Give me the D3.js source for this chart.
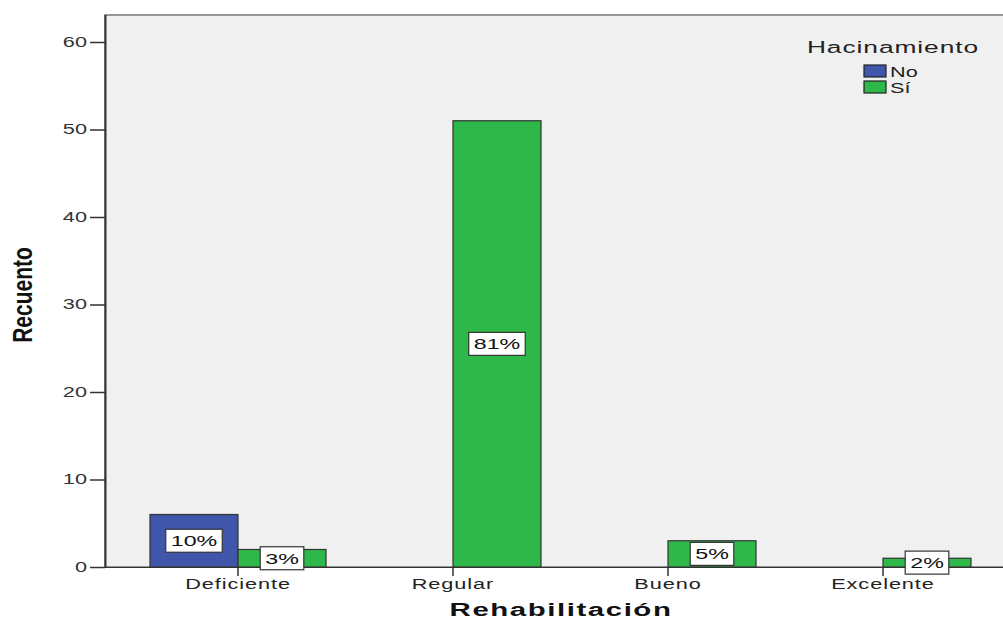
<!DOCTYPE html>
<html>
<head>
<meta charset="utf-8">
<script src="https://cdn.jsdelivr.net/npm/d3@7"></script>
<style>
body { margin: 0; background: #fff; }
text { font-family: "Liberation Sans", Arial, sans-serif; }
</style>
</head>
<body>
<div id="chart"></div>
<script>
// data
var categories = ["Deficiente", "Regular", "Bueno", "Excelente"];
var groups = ["No", "Sí"];
var countNo = [6, 0, 0, 0];
var countSi = [2, 51, 3, 1];
var pctNo = ["10%", null, null, null];
var pctSi = ["3%", "81%", "5%", "2%"];
var yTicks = [0, 10, 20, 30, 40, 50, 60];
var colors = ["#3f56aa", "#2fb84a"];

var svgWidth = 1003;
var svgHeight = 622;

// the original picture is stretched sideways, so is the text
var stretch = 1.55;

var plot = { left: 105, top: 15, right: 1016, bottom: 567 };

var svg = d3.select("#chart")
            .append("svg")
            .attr("width", svgWidth)
            .attr("height", svgHeight);

// plot background
svg.append("rect")
   .attr("x", plot.left)
   .attr("y", plot.top)
   .attr("width", plot.right - plot.left)
   .attr("height", plot.bottom - plot.top)
   .attr("fill", "#f0f0f0")
   .attr("stroke", "#777")
   .attr("stroke-width", 1.5);

var x = d3.scaleBand()
          .domain(categories)
          .range([130.5, 990.5])
          .padding(0);

var xSub = d3.scaleBand()
             .domain(groups)
             .range([0, 176]);

var y = d3.scaleLinear()
          .domain([0, 60])
          .range([plot.bottom, 42]);

var rows = [];
categories.forEach(function(c, i) {
    rows.push({ cat: c, g: "No", v: countNo[i], pct: pctNo[i] });
    rows.push({ cat: c, g: "Sí", v: countSi[i], pct: pctSi[i] });
});

function barX(d) {
    return x(d.cat) + x.bandwidth() / 2 - 88 + xSub(d.g);
}

// bars
svg.append("g")
   .selectAll("rect")
   .data(rows.filter(d => d.v > 0))
   .enter()
   .append("rect")
   .attr("x", d => barX(d))
   .attr("y", d => y(d.v))
   .attr("width", xSub.bandwidth())
   .attr("height", d => y(0) - y(d.v))
   .attr("fill", d => colors[groups.indexOf(d.g)])
   .attr("stroke", "#333")
   .attr("stroke-width", 1.2);

// x axis
var xAxis = svg.append("g")
               .attr("transform", `translate(0, ${plot.bottom})`)
               .call(d3.axisBottom(x).tickSize(9).tickSizeOuter(0).tickPadding(2));
xAxis.select(".domain").attr("d", `M${plot.left},0.5H${plot.right}`).attr("stroke", "#333").attr("stroke-width", 1.2);
xAxis.selectAll(".tick line").attr("stroke", "#333").attr("stroke-width", 1.5);
xAxis.selectAll(".tick text")
     .attr("y", 22)
     .attr("dy", 0)
     .attr("transform", `scale(${stretch},1)`)
     .attr("font-size", "14px")
     .attr("letter-spacing", "0.6px")
     .attr("fill", "#222")
     .attr("font-family", "Liberation Sans, Arial, sans-serif");

// y axis
var yAxis = svg.append("g")
               .attr("transform", `translate(${plot.left}, 0)`)
               .call(d3.axisLeft(y).tickValues(yTicks).tickSize(15).tickSizeOuter(0));
yAxis.select(".domain").attr("d", `M0.5,${plot.top}V${plot.bottom}`).attr("stroke", "#333").attr("stroke-width", 2);
yAxis.selectAll(".tick line").attr("stroke", "#333").attr("stroke-width", 1.5);
yAxis.selectAll(".tick text")
     .attr("x", -18 / stretch)
     .attr("transform", `scale(${stretch},1)`)
     .attr("font-size", "14px")
     .attr("fill", "#333")
     .attr("font-family", "Liberation Sans, Arial, sans-serif");

// percentage labels
var labels = svg.append("g")
                .selectAll("g")
                .data(rows.filter(d => d.pct))
                .enter()
                .append("g")
                .attr("transform", d => `translate(${barX(d) + xSub.bandwidth() / 2}, ${(y(d.v) + y(0)) / 2})`);

labels.append("text")
      .attr("text-anchor", "middle")
      .attr("dy", "0.36em")
      .attr("transform", `scale(${stretch},1)`)
      .attr("font-size", "15px")
      .attr("fill", "#111")
      .text(d => d.pct);

labels.each(function() {
    var g = d3.select(this);
    var w = g.select("text").node().getBBox().width * stretch;
    g.insert("rect", "text")
     .attr("x", -w / 2 - 5)
     .attr("y", -11.5)
     .attr("width", w + 10)
     .attr("height", 23)
     .attr("fill", "#fff")
     .attr("stroke", "#333")
     .attr("stroke-width", 1.2);
});

// legend
var legend = svg.append("g");
legend.append("text")
      .attr("transform", `translate(893, 53) scale(${stretch},1)`)
      .attr("text-anchor", "middle")
      .attr("font-size", "17px")
      .attr("letter-spacing", "0.6px")
      .attr("fill", "#222")
      .text("Hacinamiento");

var items = legend.selectAll("g")
                  .data(groups)
                  .enter()
                  .append("g")
                  .attr("transform", (d, i) => `translate(864, ${65 + i * 16})`);
items.append("rect")
     .attr("width", 22)
     .attr("height", 12)
     .attr("fill", (d, i) => colors[i])
     .attr("stroke", "#222")
     .attr("stroke-width", 1.2);
items.append("text")
     .attr("transform", `translate(26, 12) scale(${stretch},1)`)
     .attr("font-size", "14px")
     .attr("fill", "#222")
     .text(d => d);

// axis titles
svg.append("text")
   .attr("transform", `translate(561, 616) scale(${stretch},1)`)
   .attr("text-anchor", "middle")
   .attr("font-size", "19px")
   .attr("font-weight", "bold")
   .attr("letter-spacing", "1px")
   .attr("fill", "#111")
   .text("Rehabilitación");

svg.append("text")
   .attr("transform", "translate(32, 295) scale(1.35,1) rotate(-90)")
   .attr("text-anchor", "middle")
   .attr("font-size", "21px")
   .attr("font-weight", "bold")
   .attr("fill", "#111")
   .text("Recuento");
</script>
</body>
</html>
